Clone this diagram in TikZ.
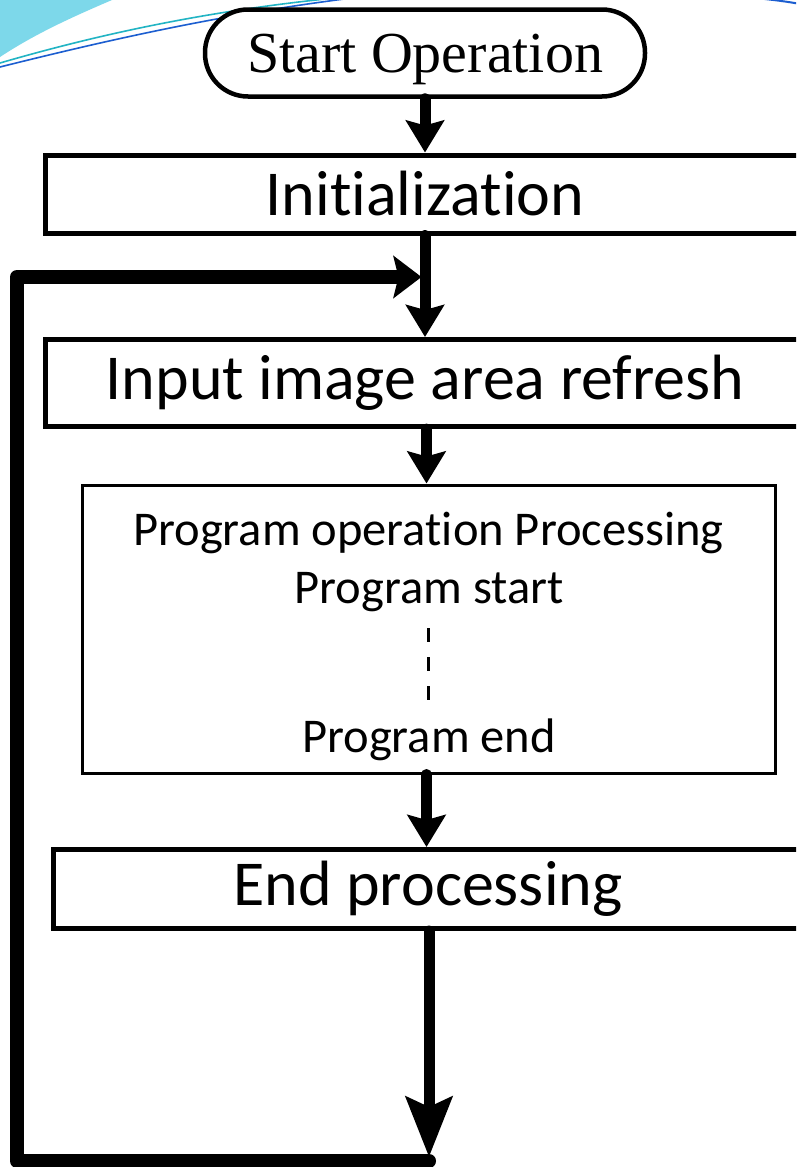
\documentclass[tikz,border=0pt]{standalone}
\usepackage{fontspec}
\setmainfont[Ligatures=NoCommon]{Carlito}
\newfontfamily\serifface{Liberation Serif}
\usetikzlibrary{arrows.meta}

\definecolor{swcyan}{HTML}{7DD8EA}
\definecolor{swteal}{HTML}{22B4C4}
\definecolor{swblue}{HTML}{1C5ED0}

\tikzset{
  stepbox/.style={draw, line width=5pt, fill=white, rectangle, inner sep=0pt,
    font=\fontsize{64}{70}\selectfont},
  startbox/.style={draw, line width=4.5pt, fill=white, rectangle,
    rounded corners=43pt, inner sep=0pt, minimum width=440pt, minimum height=87pt,
    text depth=0pt, font=\serifface\fontsize{58}{62}\selectfont},
  procbox/.style={draw, line width=3pt, rectangle, inner sep=0pt},
  proctext/.style={inner sep=0pt, font=\fontsize{48.5}{52}\selectfont},
  flow/.style={line width=11pt, line cap=round,
    -{Stealth[length=32pt, width=38pt, inset=5pt]}},
  flowlong/.style={line width=11pt, line cap=round,
    -{Stealth[length=60pt, width=46pt, inset=10pt]}},
  loopline/.style={line width=14pt, line cap=round, line join=round},
}

\begin{document}
\begin{tikzpicture}[x=1pt, y=-1pt]
  \clip (0,0) rectangle (796,1167);
  \fill[white] (0,0) rectangle (796,1167);

  % decorative swoosh in the upper left corner
  \fill[swcyan] (0,0) -- (112,0) .. controls (70,18) and (35,34) .. (0,57) -- cycle;
  \draw[swteal, line width=1.6pt] (0,63) .. controls (100,34) and (210,10) .. (345,-3);
  \draw[swblue, line width=1.6pt] (0,67) .. controls (120,37) and (230,13) .. (360,-3);
  \draw[swblue, line width=2pt] (755,-2) .. controls (775,0) and (790,2) .. (800,4);

  % flow chart steps
  \node[startbox] (start) at (425,53) {Start Operation};
  \node[stepbox, minimum width=760pt, minimum height=78pt] (init) at (425,194) {Initialization};
  \node[stepbox, minimum width=760pt, minimum height=87pt] (input) at (425,383) {Input image area refresh};
  \node[procbox, minimum width=693pt, minimum height=288pt] (prog) at (428.5,629) {};
  \node[proctext] (ptitle) at (428.5,533) {Program operation Processing};
  \node[proctext] (pstart) at (429,592) {Program start};
  \node[proctext] (pend) at (429,740) {Program end};
  \node[stepbox, minimum width=750pt, minimum height=79pt] (endp) at (428,889) {End processing};

  % dashed gap between program start and end
  \coordinate (dtop) at (428,628);
  \coordinate (dbot) at (428,702);
  \draw[line width=3pt, dash pattern=on 14pt off 15pt] (dtop) -- (dbot);

  % main flow arrows
  \draw[flow] (start.south) -- (init.north);
  \draw[flow] (init.south) -- (input.north);
  \draw[flow] ([xshift=1.5pt]input.south) -- ([xshift=1.5pt]input.south |- prog.north);
  \draw[flow] ([xshift=-2pt]prog.south) -- ([xshift=-2pt]prog.south |- endp.north);

  % return loop
  \coordinate (merge) at (427,277);
  \coordinate (loopTL) at (17,277);
  \coordinate (loopBL) at (17,1161);
  \coordinate (loopBR) at (429,1161);
  \draw[loopline] (loopBR) -- (loopBL) -- (loopTL) -- ([xshift=-30pt]merge);
  \draw[line width=14pt, -{Stealth[length=28pt, width=42pt, inset=5pt]}, shorten >=5.5pt]
    ([xshift=-40pt]merge) -- (merge);
  \draw[flowlong, shorten >=4pt] (endp.south -| loopBR) -- (loopBR);
\end{tikzpicture}
\end{document}
